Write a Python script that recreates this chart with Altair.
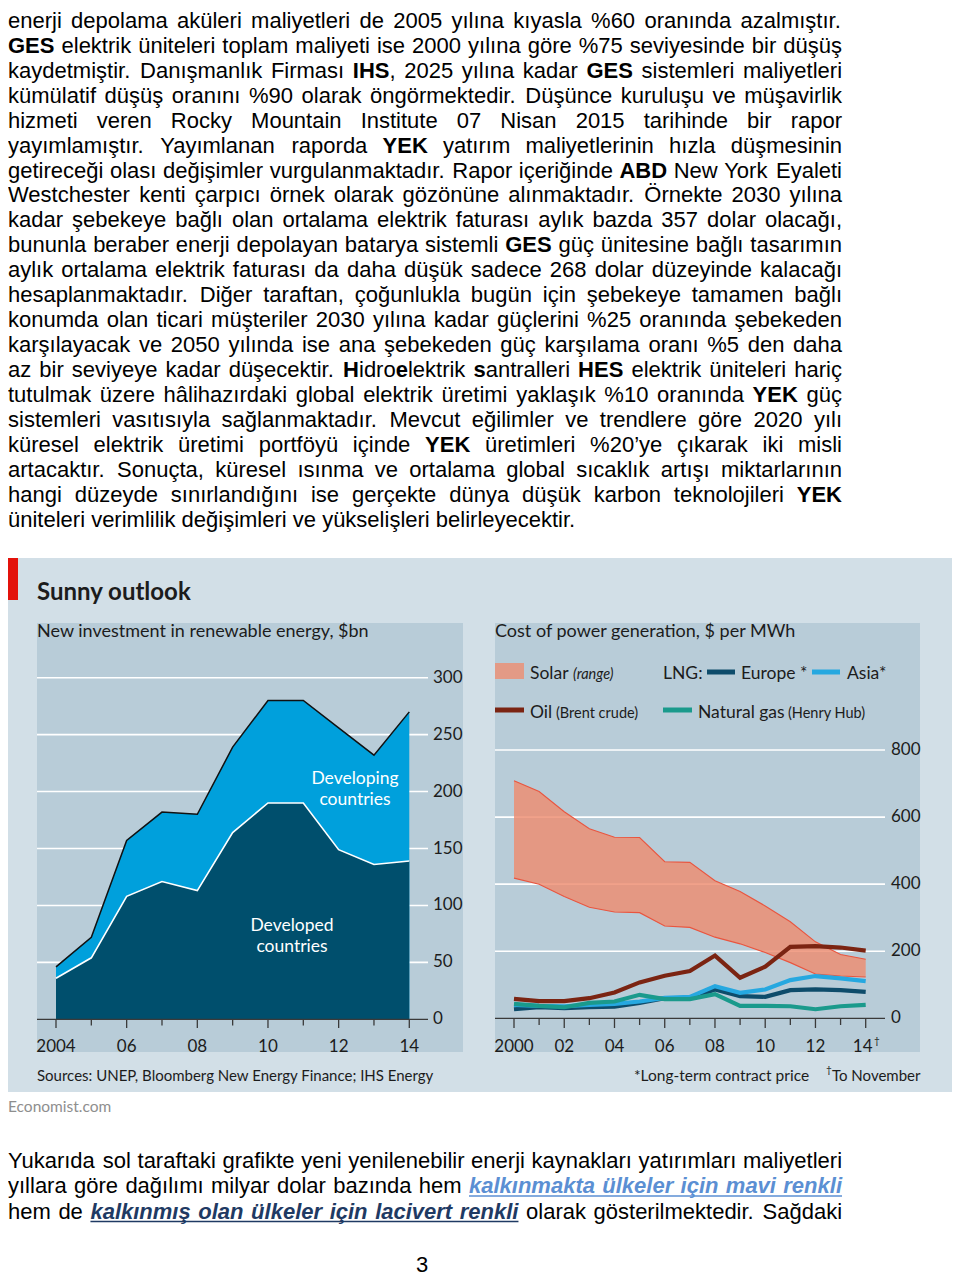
import altair as alt
import pandas as pd

# ------------------------------------------------------------------ data
inv_years = list(range(2004, 2015))
inv_developed = [36, 54, 108, 121, 113, 164, 190, 190, 149, 136, 139]
inv_developing = [10, 18, 49, 61, 67, 75, 90, 90, 107, 96, 131]

cost_years = list(range(2000, 2015))
solar_high = [708, 676, 616, 565, 540, 539, 467, 465, 410, 378, 335, 288, 228, 190, 176]
solar_low = [418, 400, 363, 331, 317, 315, 275, 271, 242, 222, 196, 166, 132, 126, 123]
oil_brent = [58, 51, 51, 60, 77, 107, 127, 141, 187, 121, 154, 213, 215, 211, 202]
lng_europe = [27, 33, 30, 33, 35, 46, 60, 60, 86, 66, 64, 84, 86, 84, 79]
lng_asia = [40, 37, 36, 40, 43, 50, 61, 64, 96, 76, 86, 114, 126, 119, 111]
gas_henry_hub = [43, 37, 33, 46, 50, 70, 57, 57, 72, 37, 37, 36, 27, 36, 40]

left_yticks = [0, 50, 100, 150, 200, 250, 300]
left_xtick_years = [2004, 2006, 2008, 2010, 2012, 2014]
left_xtick_labels = ["2004", "06", "08", "10", "12", "14"]
right_yticks = [0, 200, 400, 600, 800]
right_xtick_years = [2000, 2002, 2004, 2006, 2008, 2010, 2012, 2014]
right_xtick_labels = ["2000", "02", "04", "06", "08", "10", "12", "14"]

top_lines = [
    "enerji depolama aküleri maliyetleri de 2005 yılına kıyasla %60 oranında azalmıştır.",
    "**GES** elektrik üniteleri toplam maliyeti ise 2000 yılına göre %75 seviyesinde bir düşüş",
    "kaydetmiştir. Danışmanlık Firması **IHS**, 2025 yılına kadar **GES** sistemleri maliyetleri",
    "kümülatif düşüş oranını %90 olarak öngörmektedir. Düşünce kuruluşu ve müşavirlik",
    "hizmeti veren Rocky Mountain Institute 07 Nisan 2015 tarihinde bir rapor",
    "yayımlamıştır. Yayımlanan raporda **YEK** yatırım maliyetlerinin hızla düşmesinin",
    "getireceği olası değişimler vurgulanmaktadır. Rapor içeriğinde **ABD** New York Eyaleti",
    "Westchester kenti çarpıcı örnek olarak gözönüne alınmaktadır. Örnekte 2030 yılına",
    "kadar şebekeye bağlı olan ortalama elektrik faturası aylık bazda 357 dolar olacağı,",
    "bununla beraber enerji depolayan batarya sistemli **GES** güç ünitesine bağlı tasarımın",
    "aylık ortalama elektrik faturası da daha düşük sadece 268 dolar düzeyinde kalacağı",
    "hesaplanmaktadır. Diğer taraftan, çoğunlukla bugün için şebekeye tamamen bağlı",
    "konumda olan ticari müşteriler 2030 yılına kadar güçlerini %25 oranında şebekeden",
    "karşılayacak ve 2050 yılında ise ana şebekeden güç karşılama oranı %5 den daha",
    "az bir seviyeye kadar düşecektir. **H**idro**e**lektrik **s**antralleri **HES** elektrik üniteleri hariç",
    "tutulmak üzere hâlihazırdaki global elektrik üretimi yaklaşık %10 oranında **YEK** güç",
    "sistemleri vasıtısıyla sağlanmaktadır. Mevcut eğilimler ve trendlere göre 2020 yılı",
    "küresel elektrik üretimi portföyü içinde **YEK** üretimleri %20’ye çıkarak iki misli",
    "artacaktır. Sonuçta, küresel ısınma ve ortalama global sıcaklık artışı miktarlarının",
    "hangi düzeyde sınırlandığını ise gerçekte dünya düşük karbon teknolojileri **YEK**",
    "üniteleri verimlilik değişimleri ve yükselişleri belirleyecektir.",
]
bottom_lines = [
    [("Yukarıda sol taraftaki grafikte yeni yenilenebilir enerji kaynakları yatırımları maliyetleri", "n")],
    [("yıllara göre dağılımı milyar dolar bazında hem ", "n"), ("kalkınmakta ülkeler için mavi renkli", "blue")],
    [("hem de ", "n"), ("kalkınmış olan ülkeler için lacivert renkli", "navy"),
     (" olarak gösterilmektedir. Sağdaki", "n")],
]

# ------------------------------------------------------------------ setup
OX, OY = 8, 8
W, H = 944, 1270
EF = "Lato"
PF = "Liberation Sans"
TXT = "#1c1c1c"
OUTER = "#d2dfe7"
INNER = "#b8ccd8"
LIGHT = "#00a0dc"
DARK = "#004f6d"
OIL = "#7b2412"
ASIA = "#26a8e0"
EUROPE = "#0e4c6b"
GAS = "#1a9a8c"
SOLAR = "#ee8c70"
SOLAR_EDGE = "#e9553f"
BLUE = "#5b8fd3"
NAVY = "#1f3a63"

AR = dict(zip("abcdefghijklmnopqrstuvwxyz",
              [556, 556, 500, 556, 556, 278, 556, 556, 222, 222, 500, 222, 833, 556, 556, 556, 556, 333, 500,
               278, 556, 500, 722, 500, 500, 500]))
AR.update(zip("ABCDEFGHIJKLMNOPQRSTUVWXYZ",
              [667, 667, 722, 722, 667, 611, 778, 722, 278, 500, 667, 556, 833, 722, 778, 667, 778, 722, 667,
               611, 722, 667, 944, 667, 667, 611]))
AR.update({c: 556 for c in "0123456789"})
AR.update({" ": 278, ".": 278, ",": 278, "%": 889, "’": 222, "'": 191, ":": 278, ";": 278, "-": 333,
           "(": 333, ")": 333, "ç": 500, "ğ": 556, "ı": 278, "ö": 556, "ş": 500, "ü": 556, "â": 556,
           "Ç": 722, "Ğ": 778, "İ": 278, "Ö": 778, "Ş": 667, "Ü": 722})
AB = dict(zip("abcdefghijklmnopqrstuvwxyz",
              [556, 611, 556, 611, 556, 333, 611, 611, 278, 278, 556, 278, 889, 611, 611, 611, 611, 389, 556,
               333, 611, 556, 778, 556, 556, 500]))
AB.update(zip("ABCDEFGHIJKLMNOPQRSTUVWXYZ",
              [722, 722, 722, 722, 667, 611, 778, 722, 278, 556, 722, 611, 833, 722, 778, 667, 778, 722, 667,
               611, 722, 667, 944, 667, 667, 611]))
AB.update({c: 556 for c in "0123456789"})
AB.update({" ": 278, ".": 278, ",": 278, "%": 889, "’": 278, "ç": 556, "ğ": 611, "ı": 278, "ö": 611,
           "ş": 556, "ü": 611, "İ": 278})


def twidth(s, st, size):
    tbl = AR if st == "n" else AB
    return sum(tbl.get(c, 556) for c in s) / 1000.0 * size


def parse_md(line):
    parts = line.split("**")
    return [(p, "b" if i % 2 else "n") for i, p in enumerate(parts) if p]


def layout(lines, ys, left, right, size, justify):
    rows, unders = [], []
    for i, segs in enumerate(lines):
        y = ys[i]
        tokens = [[]]
        for text, st in segs:
            for j, pc in enumerate(text.split(" ")):
                if j > 0:
                    tokens.append([])
                if pc:
                    tokens[-1].append((pc, st))
        tokens = [t for t in tokens if t]
        tw = [sum(twidth(c, st, size) for c, st in t) for t in tokens]
        if justify[i] and len(tokens) > 1:
            gap = (right - left - sum(tw)) / (len(tokens) - 1)
        else:
            gap = 0.278 * size
        x = left
        spans = {}
        for t, w in zip(tokens, tw):
            cx = x
            for c, st in t:
                cw = twidth(c, st, size)
                rows.append(dict(x=cx, y=y, t=c, s=st))
                if st in ("blue", "navy"):
                    a, b = spans.get(st, (cx, cx + cw))
                    spans[st] = (min(a, cx), max(b, cx + cw))
                cx += cw
            x += w + gap
        for st, (a, b) in spans.items():
            unders.append(dict(x=a, x2=b, y=y + 3, s=st))
    return pd.DataFrame(rows), pd.DataFrame(unders)


PSIZE = 22
TOP_FIRST, TOP_LAST = 28.0, 526.5
top_step = (TOP_LAST - TOP_FIRST) / (len(top_lines) - 1)
top_ys = [TOP_FIRST - OY + top_step * i for i in range(len(top_lines))]
top_rows, _ = layout([parse_md(l) for l in top_lines], top_ys, 0, 842 - OX, PSIZE,
                     [True] * (len(top_lines) - 1) + [False])
bot_ys = [1167.5 - OY + 25.5 * i for i in range(3)]
bot_rows, bot_under = layout(bottom_lines, bot_ys, 0, 842 - OX, PSIZE, [True, True, True])

layers = []


def pix(f):
    return alt.X(f, scale=None, axis=None)


def piy(f):
    return alt.Y(f, scale=None, axis=None)


def word_layer(df, style, italic=False, color="black"):
    d = df[df.s == style]
    return alt.Chart(d).mark_text(
        align="left", baseline="alphabetic", font=PF, fontSize=PSIZE,
        fontWeight="bold" if style != "n" else "normal",
        fontStyle="italic" if italic else "normal", color=color
    ).encode(x=pix("x:Q"), y=piy("y:Q"), text="t:N")


layers += [word_layer(top_rows, "n"), word_layer(top_rows, "b"),
           word_layer(bot_rows, "n"), word_layer(bot_rows, "blue", True, BLUE),
           word_layer(bot_rows, "navy", True, NAVY)]
for st, col in (("blue", BLUE), ("navy", NAVY)):
    layers.append(alt.Chart(bot_under[bot_under.s == st]).mark_rule(color=col, strokeWidth=1.6).encode(
        x=pix("x:Q"), x2="x2:Q", y=piy("y:Q")))


def box(x1, y1, x2, y2, color):
    return alt.Chart(pd.DataFrame({"a": [0]})).mark_rect(color=color).encode(
        x=alt.value(x1 - OX), x2=alt.value(x2 - OX), y=alt.value(y1 - OY), y2=alt.value(y2 - OY))


def label(txt, x, y, size, weight="normal", style="normal", color=TXT, align="left", font=EF, lh=None):
    kw = {}
    if lh is not None:
        kw["lineHeight"] = lh
    return alt.Chart(pd.DataFrame({"a": [0]})).mark_text(
        align=align, baseline="alphabetic", fontSize=size, fontWeight=weight, fontStyle=style,
        font=font, color=color, **kw).encode(x=alt.value(x - OX), y=alt.value(y - OY), text=alt.value(txt))


def swatch(x1, x2, y, color):
    return alt.Chart(pd.DataFrame({"a": [0]})).mark_rule(color=color, strokeWidth=5).encode(
        x=alt.value(x1 - OX), x2=alt.value(x2 - OX), y=alt.value(y - OY))


# page frame
layers += [box(4, 558, 955, 1092, OUTER), box(4, 558, 18, 600, "#e3120b"),
           box(37, 623, 463, 1052, INNER), box(495, 623, 920, 1052, INNER)]
layers += [label("Sunny outlook", 37, 600, 24, "bold"),
           label("New investment in renewable energy, $bn", 37, 637, 18),
           label("Cost of power generation, $ per MWh", 495, 637, 18),
           label("Sources: UNEP, Bloomberg New Energy Finance; IHS Energy", 37, 1081, 15),
           label("*Long-term contract price", 634, 1081, 15.5),
           label("To November", 832, 1081, 15),
           label("†", 826, 1073, 10),
           label("Economist.com", 8, 1112, 15.5, color="#8e8e8e"),
           label("3", 422, 1272, PSIZE, align="center", font=PF, color="black")]

# ------------------------------------------------------------------ left panel
XL = alt.Scale(domain=[2004, 2014], range=[56 - OX, 409.3 - OX], nice=False, zero=False)
YL = alt.Scale(domain=[0, 300], range=[1019.3 - OY, 677.7 - OY], nice=False)
inv = pd.DataFrame({"year": inv_years, "developed": inv_developed, "developing": inv_developing})
inv["total"] = inv["developed"] + inv["developing"]


def xl(f):
    return alt.X(f, scale=XL, axis=None)


def yl(f):
    return alt.Y(f, scale=YL, axis=None)


lyt = pd.DataFrame({"v": left_yticks, "lab": [str(v) for v in left_yticks]})
layers.append(alt.Chart(lyt[lyt.v > 0]).mark_rule(color="white", strokeWidth=1.6).encode(
    y=yl("v:Q"), x=alt.value(37 - OX), x2=alt.value(428 - OX)))
layers.append(alt.Chart(inv).mark_area(color=LIGHT).encode(x=xl("year:Q"), y=yl("total:Q")))
layers.append(alt.Chart(inv).mark_area(color=DARK).encode(x=xl("year:Q"), y=yl("developed:Q")))
layers.append(alt.Chart(inv).mark_line(color="white", strokeWidth=1.6).encode(x=xl("year:Q"), y=yl("developed:Q")))
layers.append(alt.Chart(inv).mark_line(color="#111111", strokeWidth=1.5).encode(x=xl("year:Q"), y=yl("total:Q")))
layers.append(alt.Chart(lyt[lyt.v == 0]).mark_rule(color="#3a3a3a", strokeWidth=1.3).encode(
    y=yl("v:Q"), x=alt.value(37 - OX), x2=alt.value(428 - OX)))
ltk = pd.DataFrame({"year": inv_years})
layers.append(alt.Chart(ltk[ltk.year % 2 == 0]).mark_rule(color="#3a3a3a", strokeWidth=1.3).encode(
    x=xl("year:Q"), y=alt.value(1019.3 - OY), y2=alt.value(1028 - OY)))
layers.append(alt.Chart(ltk[ltk.year % 2 == 1]).mark_rule(color="#3a3a3a", strokeWidth=1.3).encode(
    x=xl("year:Q"), y=alt.value(1019.3 - OY), y2=alt.value(1025.5 - OY)))
layers.append(alt.Chart(lyt).mark_text(align="left", baseline="middle", font=EF, fontSize=17, color=TXT).encode(
    x=alt.value(433 - OX), y=yl("v:Q"), text="lab:N"))
lxl = pd.DataFrame({"year": left_xtick_years, "lab": left_xtick_labels})
layers.append(alt.Chart(lxl).mark_text(align="center", baseline="alphabetic", font=EF, fontSize=17, color=TXT).encode(
    x=xl("year:Q"), y=alt.value(1052 - OY), text="lab:N"))
layers += [label(["Developing", "countries"], 355, 784, 17.5, color="white", align="center", lh=21),
           label(["Developed", "countries"], 292, 931, 17.5, color="white", align="center", lh=21)]

# ------------------------------------------------------------------ right panel
XR = alt.Scale(domain=[2000, 2014], range=[514 - OX, 865.7 - OX], nice=False, zero=False)
YR = alt.Scale(domain=[0, 800], range=[1018.3 - OY, 750 - OY], nice=False)
cost = pd.DataFrame({"year": cost_years, "solar_low": solar_low, "solar_high": solar_high,
                     "oil": oil_brent, "europe": lng_europe, "asia": lng_asia, "gas": gas_henry_hub})


def xr(f):
    return alt.X(f, scale=XR, axis=None)


def yr(f):
    return alt.Y(f, scale=YR, axis=None)


ryt = pd.DataFrame({"v": right_yticks, "lab": [str(v) for v in right_yticks]})
layers.append(alt.Chart(ryt[ryt.v > 0]).mark_rule(color="white", strokeWidth=1.6).encode(
    y=yr("v:Q"), x=alt.value(495 - OX), x2=alt.value(885 - OX)))
layers.append(alt.Chart(cost).mark_area(color=SOLAR, opacity=0.82).encode(
    x=xr("year:Q"), y=yr("solar_high:Q"), y2="solar_low:Q"))
layers.append(alt.Chart(cost).mark_line(color=SOLAR_EDGE, strokeWidth=1.1).encode(x=xr("year:Q"), y=yr("solar_high:Q")))
layers.append(alt.Chart(cost).mark_line(color=SOLAR_EDGE, strokeWidth=1.1).encode(x=xr("year:Q"), y=yr("solar_low:Q")))
for fld, col in (("europe", EUROPE), ("asia", ASIA), ("gas", GAS), ("oil", OIL)):
    layers.append(alt.Chart(cost).mark_line(color=col, strokeWidth=4.2).encode(x=xr("year:Q"), y=yr(f"{fld}:Q")))
layers.append(alt.Chart(ryt[ryt.v == 0]).mark_rule(color="#3a3a3a", strokeWidth=1.3).encode(
    y=yr("v:Q"), x=alt.value(495 - OX), x2=alt.value(885 - OX)))
rtk = pd.DataFrame({"year": cost_years})
layers.append(alt.Chart(rtk[rtk.year % 2 == 0]).mark_rule(color="#3a3a3a", strokeWidth=1.3).encode(
    x=xr("year:Q"), y=alt.value(1018.3 - OY), y2=alt.value(1028 - OY)))
layers.append(alt.Chart(rtk[rtk.year % 2 == 1]).mark_rule(color="#3a3a3a", strokeWidth=1.3).encode(
    x=xr("year:Q"), y=alt.value(1018.3 - OY), y2=alt.value(1025 - OY)))
layers.append(alt.Chart(ryt).mark_text(align="left", baseline="middle", font=EF, fontSize=17, color=TXT).encode(
    x=alt.value(891 - OX), y=yr("v:Q"), text="lab:N"))
rxl = pd.DataFrame({"year": right_xtick_years, "lab": right_xtick_labels})
layers.append(alt.Chart(rxl[rxl.year < 2014]).mark_text(
    align="center", baseline="alphabetic", font=EF, fontSize=17, color=TXT).encode(
    x=xr("year:Q"), y=alt.value(1052 - OY), text="lab:N"))
layers.append(alt.Chart(rxl[rxl.year == 2014]).mark_text(
    align="center", baseline="alphabetic", font=EF, fontSize=17, color=TXT, dx=-3).encode(
    x=xr("year:Q"), y=alt.value(1052 - OY), text="lab:N"))
layers.append(label("†", 874, 1044, 10))

# legend
layers += [box(495, 663, 524, 679, "#e39a86"),
           label("Solar", 530, 679, 17.5), label("(range)", 573, 679, 14.5, style="italic"),
           label("LNG:", 663, 679, 17.5),
           swatch(707, 735, 672, EUROPE), label("Europe *", 741, 679, 17.5),
           swatch(812, 840, 672, ASIA), label("Asia*", 847, 679, 17.5),
           swatch(495, 524, 710, OIL), label("Oil", 530, 718, 17.5), label("(Brent crude)", 556, 718, 14.5),
           swatch(663, 692, 710, GAS), label("Natural gas", 698, 718, 17.5), label("(Henry Hub)", 788, 718, 14.5)]

chart = alt.layer(*layers).resolve_scale(x="independent", y="independent").properties(
    width=W, height=H, autosize=alt.AutoSizeParams(type="none"), padding=0,
    background="white").configure_view(stroke=None)

chart.save("out.html", embed_options={"renderer": "svg", "actions": False})
